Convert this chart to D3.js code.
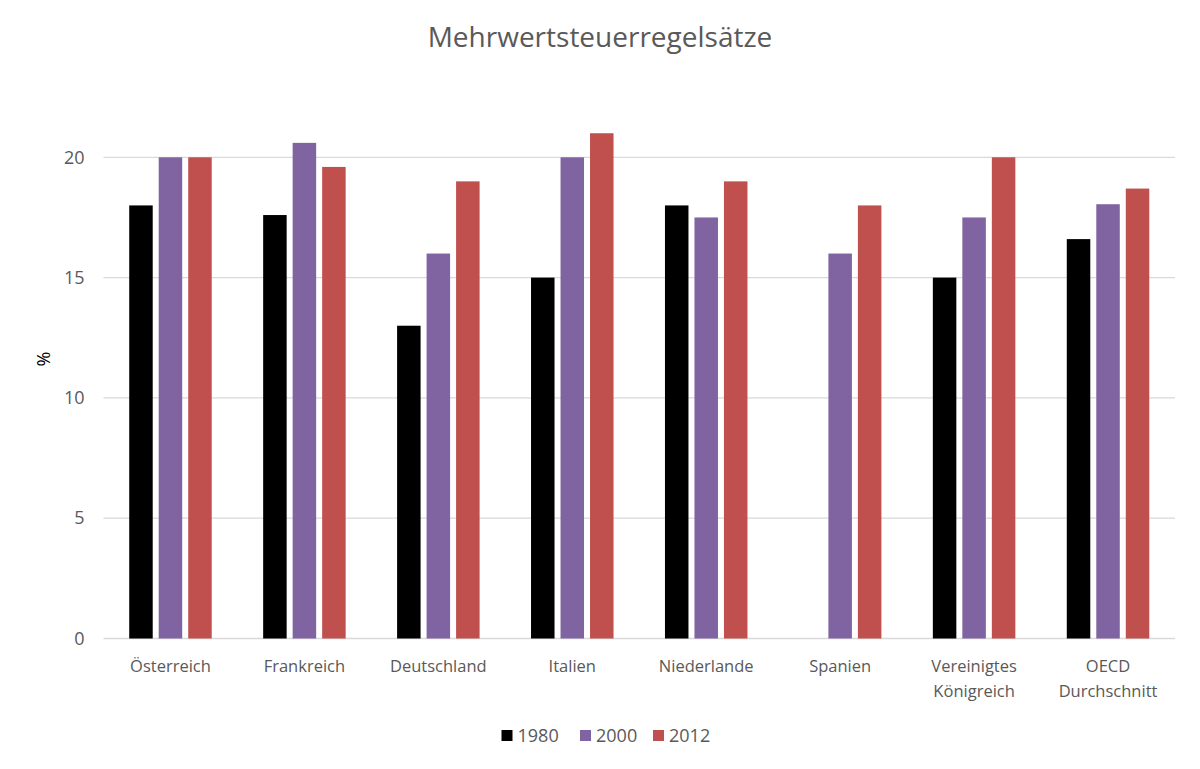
<!DOCTYPE html>
<html>
<head>
<meta charset="utf-8">
<script src="https://cdn.jsdelivr.net/npm/d3@7"></script>
<style>
  body { margin: 0; background: #fff; }
  svg text { font-family: "Open Sans", "Noto Sans", sans-serif; }
</style>
</head>
<body>
<div id="chart"></div>
<script>
// data
var categories = ["Österreich", "Frankreich", "Deutschland", "Italien", "Niederlande", "Spanien", "Vereinigtes Königreich", "OECD Durchschnitt"];
var years = ["1980", "2000", "2012"];
var values1980 = [18, 17.6, 13, 15, 18, null, 15, 16.6];
var values2000 = [20, 20.6, 16, 20, 17.5, 16, 17.5, 18.05];
var values2012 = [20, 19.6, 19, 21, 19, 18, 20, 18.7];
var yTicks = [0, 5, 10, 15, 20];
var colors = ["#000000", "#8064a2", "#c0504d"];

var series = [values1980, values2000, values2012];

var w = 1200, h = 769;
var left = 103.5, right = 1175, bottom = 638.5;

var svg = d3.select("#chart").append("svg")
    .attr("width", w)
    .attr("height", h);

// title
svg.append("text")
    .attr("x", w / 2)
    .attr("y", 47)
    .attr("text-anchor", "middle")
    .style("font-size", "28px")
    .style("fill", "#595959")
    .text("Mehrwertsteuerregelsätze");

var x0 = d3.scaleBand()
    .domain(categories)
    .range([left, right]);

var groupW = 82.5;
var x1 = d3.scaleBand()
    .domain(years)
    .range([0, groupW])
    .paddingInner(6 / 29.5);

var y = d3.scaleLinear()
    .domain([0, 22.4])
    .range([bottom, bottom - 22.4 * 24.06]);

// gridlines
svg.append("g")
    .selectAll("line")
    .data(yTicks)
    .enter()
    .append("line")
        .attr("x1", left)
        .attr("x2", right)
        .attr("y1", function(d){ return y(d); })
        .attr("y2", function(d){ return y(d); })
        .style("stroke", "#d9d9d9")
        .style("stroke-width", 1.3);

// y axis labels
var yAxis = svg.append("g")
    .attr("transform", "translate(" + (left - 10) + ",0)")
    .call(d3.axisLeft(y).tickValues(yTicks).tickSize(0).tickPadding(9));
yAxis.select(".domain").remove();
yAxis.selectAll("text")
    .style("font-size", "18px")
    .style("fill", "#595959")
    .style("font-family", "'Open Sans', sans-serif");

// y title
svg.append("text")
    .attr("transform", "translate(50,359) rotate(-90)")
    .attr("text-anchor", "middle")
    .style("font-size", "18px")
    .style("fill", "#000")
    .text("%");

// bars
var offset = (x0.bandwidth() - groupW) / 2;
years.forEach(function(yr, k){
    svg.append("g")
        .selectAll("rect")
        .data(categories.map(function(c, i){ return { cat: c, v: series[k][i] }; })
              .filter(function(d){ return d.v != null; }))
        .enter()
        .append("rect")
            .attr("x", function(d){ return x0(d.cat) + offset + x1(yr); })
            .attr("y", function(d){ return y(d.v); })
            .attr("width", x1.bandwidth())
            .attr("height", function(d){ return y(0) - y(d.v); })
            .style("fill", colors[k]);
});

// x axis labels
var xLab = svg.append("g")
    .selectAll("text")
    .data(categories)
    .enter()
    .append("text")
        .attr("x", function(d){ return x0(d) + x0.bandwidth() / 2; })
        .attr("y", 671.5)
        .attr("text-anchor", "middle")
        .style("font-size", "16.5px")
        .style("fill", "#595959");
xLab.each(function(d){
    var parts = d.split(" ");
    var t = d3.select(this);
    parts.forEach(function(p, i){
        t.append("tspan")
            .attr("x", t.attr("x"))
            .attr("dy", i == 0 ? 0 : 25)
            .text(p);
    });
});

// legend
var legX = [501.5, 580, 653];
var leg = svg.append("g")
    .selectAll("g")
    .data(years)
    .enter()
    .append("g")
        .attr("transform", function(d, i){ return "translate(" + legX[i] + ",730)"; });
leg.append("rect")
    .attr("width", 11)
    .attr("height", 11)
    .style("fill", function(d, i){ return colors[i]; });
leg.append("text")
    .attr("x", 16)
    .attr("y", 12)
    .style("font-size", "18px")
    .style("fill", "#595959")
    .text(function(d){ return d; });
</script>
</body>
</html>
